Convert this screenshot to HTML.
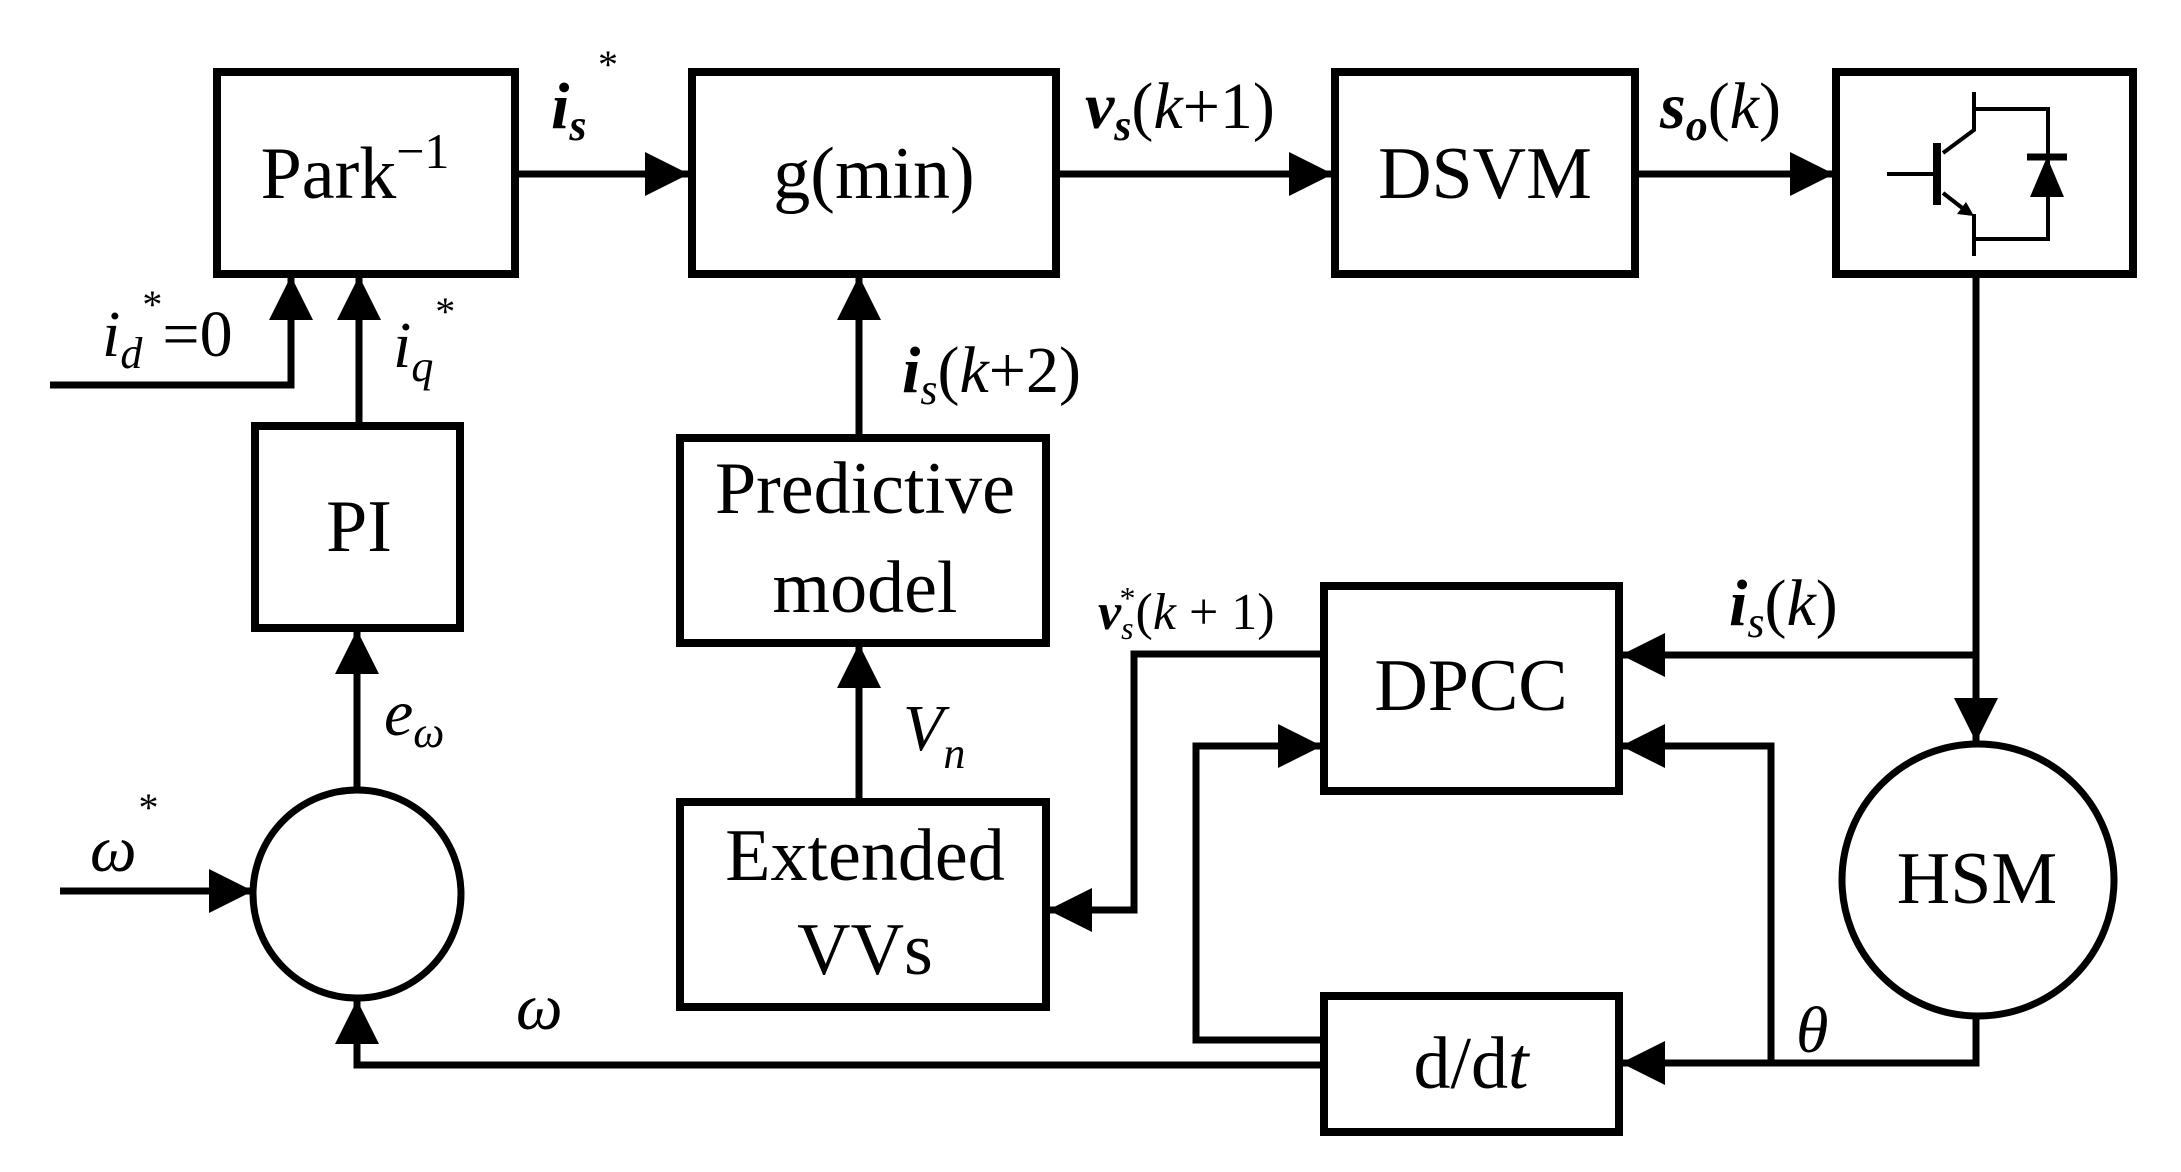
<!DOCTYPE html>
<html><head><meta charset="utf-8"><style>html,body{margin:0;padding:0;background:#fff}svg{display:block}</style></head>
<body>
<svg width="2181" height="1172" viewBox="0 0 2181 1172" xmlns="http://www.w3.org/2000/svg" font-family="Liberation Serif, serif">
<defs>
<marker id="a" viewBox="0 0 44 44" refX="44" refY="22" markerWidth="44" markerHeight="44" markerUnits="userSpaceOnUse" orient="auto">
<path d="M0,0 L44,22 L0,44 Z" fill="#000"/></marker>
</defs>
<g fill="none" stroke="#000" stroke-width="8">
<rect x="217" y="72" width="298" height="202"/>
<rect x="692" y="72" width="364" height="202"/>
<rect x="1335" y="72" width="300" height="202"/>
<rect x="1836" y="72" width="297" height="202"/>
<rect x="255" y="426" width="205" height="202"/>
<rect x="680" y="438" width="366" height="205"/>
<rect x="680" y="802" width="366" height="205"/>
<rect x="1324" y="586" width="295" height="205"/>
<rect x="1324" y="996" width="295" height="136"/>
<circle cx="357" cy="894" r="104" stroke-width="7"/>
<circle cx="1978" cy="880" r="136" stroke-width="7"/>
</g>
<g fill="none" stroke="#000" stroke-width="7" marker-end="url(#a)">
<path d="M515,174 H689"/>
<path d="M1056,174 H1333"/>
<path d="M1635,174 H1834"/>
<path d="M50,385 H291 V276"/>
<path d="M359,426 V276"/>
<path d="M859,438 V276"/>
<path d="M357,790 V630"/>
<path d="M859,802 V644"/>
<path d="M60,891 H253"/>
<path d="M1324,1065 H357 V1000"/>
<path d="M1976,276 V742"/>
<path d="M1976,655 H1621"/>
<path d="M1976,1016 V1063 H1621"/>
<path d="M1771,1063 V746 H1621"/>
<path d="M1324,1040 H1196 V746 H1322"/>
<path d="M1324,654 H1134 V910 H1048"/>
</g>
<!-- IGBT -->
<g fill="none" stroke="#000" stroke-width="4">
<path d="M1887,174 H1934"/>
<path d="M1943,153 L1974,130 V92"/>
<path d="M1943,193 L1970,214"/>
<path d="M1974,214 V256"/>
<path d="M1974,109 H2048 V239 H1974"/>
</g>
<path d="M1937,143 V205" stroke="#000" stroke-width="8"/>
<path d="M1974,216 L1957,214 L1966,202 Z" fill="#000"/>
<path d="M2027,157 H2067" stroke="#000" stroke-width="7"/>
<path d="M2047,157 L2030,197 H2064 Z" fill="#000"/>
<g font-size="74" text-anchor="middle" fill="#000">
<text x="355" y="198">Park<tspan font-size="50" dy="-30">−1</tspan></text>
<text x="874" y="198">g(min)</text>
<text x="1485" y="198">DSVM</text>
<text x="359" y="551">PI</text>
<text x="865" y="513">Predictive</text>
<text x="865" y="612">model</text>
<text x="865" y="880">Extended</text>
<text x="865" y="974">VVs</text>
<text x="1471" y="710">DPCC</text>
<text x="1471" y="1088">d/d<tspan font-style="italic">t</tspan></text>
<text x="1977" y="903">HSM</text>
</g>
<g font-size="66" fill="#000">
<text x="551" y="128" font-weight="bold" font-style="italic">i<tspan font-size="44" dy="12">s</tspan></text>
<text x="598" y="78" font-size="40">*</text>
<text x="1085" y="128"><tspan font-weight="bold" font-style="italic">v</tspan><tspan font-size="44" dy="12" font-weight="bold" font-style="italic">s</tspan><tspan dy="-12">(</tspan><tspan font-style="italic">k</tspan>+1)</text>
<text x="1660" y="128"><tspan font-weight="bold" font-style="italic">s</tspan><tspan font-size="44" dy="12" font-style="italic" font-weight="bold">o</tspan><tspan dy="-12">(</tspan><tspan font-style="italic">k</tspan>)</text>
<text x="902" y="392"><tspan font-weight="bold" font-style="italic">i</tspan><tspan font-size="44" dy="12" font-style="italic">s</tspan><tspan dy="-12">(</tspan><tspan font-style="italic">k</tspan>+2)</text>
<text x="102" y="356"><tspan font-style="italic">i</tspan><tspan font-size="44" dy="12" font-style="italic">d</tspan><tspan font-size="40" dy="-50">*</tspan><tspan dy="38">=0</tspan></text>
<text x="393" y="367" font-style="italic">i<tspan font-size="44" dy="14">q</tspan><tspan font-size="40" dy="-56">*</tspan></text>
<text x="384" y="735" font-style="italic">e<tspan font-size="44" dy="12">ω</tspan></text>
<text x="903" y="750" font-style="italic">V<tspan font-size="44" dy="18">n</tspan></text>
<text x="90" y="871" font-style="italic">ω<tspan font-size="40" dy="-50">*</tspan></text>
<text x="516" y="1029" font-style="italic">ω</text>
<text x="1796" y="1052" font-style="italic">θ</text>
<text x="1729" y="625"><tspan font-weight="bold" font-style="italic">i</tspan><tspan font-size="44" dy="12" font-style="italic">s</tspan><tspan dy="-12">(</tspan><tspan font-style="italic">k</tspan>)</text>
<text x="1098" y="629" font-size="52"><tspan font-weight="bold" font-style="italic">v</tspan><tspan font-size="32" dy="10" font-style="italic">s</tspan><tspan font-size="32" dx="-14" dy="-30">*</tspan><tspan dy="20">(</tspan><tspan font-style="italic">k</tspan> + 1)</text>
</g>
</svg>
</body></html>
